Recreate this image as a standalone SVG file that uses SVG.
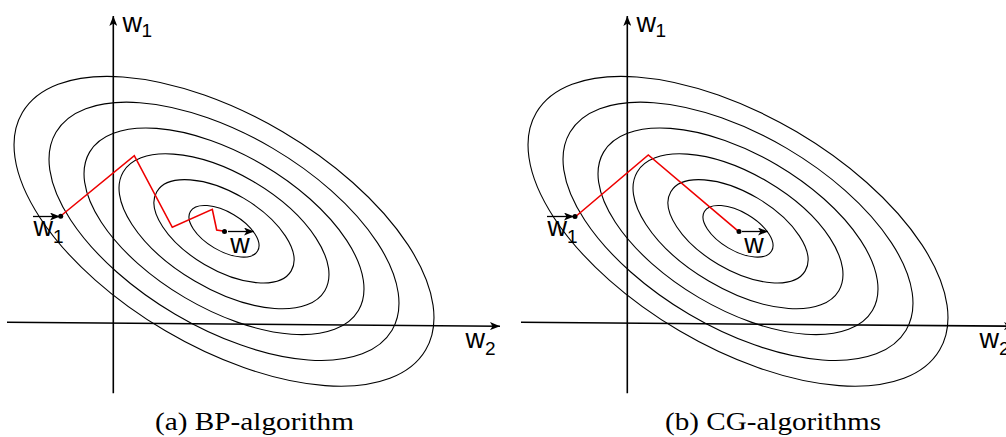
<svg xmlns="http://www.w3.org/2000/svg" xmlns:xlink="http://www.w3.org/1999/xlink" width="1006" height="437" viewBox="0 0 1006 437">
<style>
.ax{stroke:#000;stroke-width:1.6;fill:none}
.ct{stroke:#000;stroke-width:1.1;fill:none}
.rp{stroke:#ee0000;stroke-width:1.6;fill:none;stroke-linejoin:miter}
.vec{stroke:#000;stroke-width:1.3;fill:none}
.lb{font-family:"Liberation Sans",Arial,sans-serif;font-size:27px;fill:#000}
.sb{font-family:"Liberation Sans",Arial,sans-serif;font-size:19px;fill:#000}
.cap{font-family:"Liberation Serif","Times New Roman",serif;font-size:25.5px;fill:#000}
</style>
<defs>
<marker id="ah" viewBox="0 0 10 8" refX="10" refY="4" markerWidth="10" markerHeight="8" markerUnits="userSpaceOnUse" orient="auto">
<path d="M0,0 L10,4 L0,8 L2.5,4 Z" fill="#000"/>
</marker>
<g id="panel">
<g id="contours">
<g transform="translate(224,231.3) rotate(30.5)">
<ellipse class="ct" cx="0" cy="0" rx="39" ry="19.25"/>
<ellipse class="ct" cx="0" cy="0" rx="78" ry="38.5"/>
<ellipse class="ct" cx="0" cy="0" rx="117" ry="57.75"/>
<ellipse class="ct" cx="0" cy="0" rx="156" ry="77"/>
<ellipse class="ct" cx="0" cy="0" rx="195" ry="96.25"/>
<ellipse class="ct" cx="0" cy="0" rx="234" ry="115.5"/>
</g>
</g>
<g id="axes">
<line class="ax" x1="113.3" y1="393.3" x2="113.3" y2="16" marker-end="url(#ah)"/>
<line class="ax" x1="7" y1="322.3" x2="500" y2="326.2" marker-end="url(#ah)"/>
<text class="lb" x="122.5" y="31.7">w</text><text class="sb" x="141.5" y="37.3">1</text>
<text class="lb" x="465.5" y="348.3">w</text><text class="sb" x="485" y="354.5">2</text>
</g>
<g id="vectors">
<line class="vec" x1="33" y1="216.5" x2="60" y2="216.5" marker-end="url(#ah)"/>
<text class="lb" x="33.5" y="235.7">w</text><text class="sb" x="53" y="243">1</text>
<line class="vec" x1="228" y1="231.5" x2="254" y2="231.5" marker-end="url(#ah)"/>
<text class="lb" x="230.3" y="253.3">w</text>
</g>
</g>
</defs>
<g id="panel-a">
<use xlink:href="#panel"/>
<polyline id="path-a" class="rp" points="60.7,216 134.3,155.7 172.3,227.3 212.3,209.3 216.7,230 224.5,231.3"/>
<circle cx="60.7" cy="216.3" r="2.5" fill="#000"/>
<circle cx="224.5" cy="231.4" r="2.5" fill="#000"/>
<text class="cap" x="155" y="430" textLength="199" lengthAdjust="spacingAndGlyphs">(a) BP-algorithm</text>
</g>
<g id="panel-b">
<use xlink:href="#panel" transform="translate(514,0)"/>
<polyline id="path-b" class="rp" points="575.7,216.5 648.3,155 738.5,231.3"/>
<circle cx="575" cy="216.5" r="2.5" fill="#000"/>
<circle cx="739" cy="231.4" r="2.5" fill="#000"/>
<text class="cap" x="665" y="430" textLength="216" lengthAdjust="spacingAndGlyphs">(b) CG-algorithms</text>
</g>
</svg>
